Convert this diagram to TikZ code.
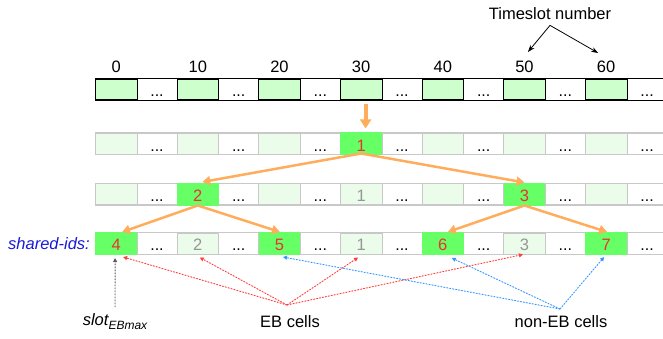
\documentclass[tikz,border=0pt]{standalone}
\usepackage{fontspec}
\setmainfont{Liberation Sans}
\usetikzlibrary{arrows.meta}
\definecolor{topgreen}{RGB}{204,255,204}
\definecolor{lightgreen}{RGB}{235,252,235}
\definecolor{hlgreen}{RGB}{102,255,102}
\definecolor{numred}{RGB}{235,50,50}
\definecolor{ghostgray}{RGB}{150,150,150}
\definecolor{graybd}{RGB}{200,200,200}
\definecolor{orangec}{RGB}{255,172,92}
\definecolor{labelblue}{RGB}{25,25,215}
\definecolor{dotred}{RGB}{255,60,60}
\definecolor{dotblue}{RGB}{50,150,255}
\definecolor{dotgray}{RGB}{90,90,90}
\begin{document}
\begin{tikzpicture}[x=1pt,y=-1pt,
  font=\fontsize{16.5}{19}\selectfont,
  rowbg/.style={minimum width=580pt, minimum height=21.5pt, inner sep=0pt, outer sep=0pt, anchor=west},
  wcell/.style={fill=white, minimum width=40pt, minimum height=21.5pt, inner sep=0pt, outer sep=0pt, text height=16pt, text depth=1.5pt, font=\fontsize{16}{16}\selectfont},
  gcell/.style={minimum width=41.67pt, minimum height=22pt, inner sep=0pt, outer sep=0pt},
  hl/.style={fill=hlgreen, text=numred, minimum width=41.67pt, minimum height=23pt, inner sep=0pt, outer sep=0pt, text height=14.5pt, text depth=0pt},
  ghost/.style={text=ghostgray, inner sep=0pt, outer sep=0pt, text height=14.5pt, text depth=0pt, minimum height=23pt},
  oarrow/.style={draw=orangec, line width=2.5pt, -{Triangle[length=8pt,width=9pt]}},
  dotarrow/.style={line width=0.9pt, dash pattern=on 1.5pt off 1.5pt, -{Triangle[length=4pt,width=4pt]}},
  rdot/.style={dotarrow, draw=dotred, fill=dotred},
  bdot/.style={dotarrow, draw=dotblue, fill=dotblue},
  kdot/.style={dotarrow, draw=dotgray, fill=dotgray},
  tsarrow/.style={draw=black, line width=0.8pt, -{Stealth[length=7pt,width=5pt]}},
  numlabel/.style={anchor=base, inner sep=0pt},
  btext/.style={anchor=base, inner sep=0pt}]
\useasboundingbox (0,0) rectangle (663,339);

% rows of cells
\foreach \r/\yc/\bc/\fc/\lw in {1/89.5/black/topgreen/1.6pt, 2/144/graybd/lightgreen/1.5pt, 3/194/graybd/lightgreen/1.5pt, 4/243.5/graybd/lightgreen/1.5pt}{
  \node[rowbg, draw=\bc, fill=\fc, line width=\lw] (row\r) at (95.3,\yc) {};
  \foreach \k in {0,...,6}{
    \node[gcell] (g\r\k) at ({116.1+81.67*\k},\yc) {};
    \node[wcell, draw=\bc, line width=1pt] (w\r\k) at ({157+81.67*\k},\yc) {...};
  }
}

% timeslot numbers
\foreach \k/\t in {0/0,1/10,2/20,3/30,4/40,5/50,6/60}{
  \node[numlabel] (l\k) at ({116.1+81.67*\k},72.7) {\t};
}
\node[anchor=base, inner sep=0pt] (tsl) at (550,20) {Timeslot number};
\draw[tsarrow] ([yshift=-5pt]tsl.south) -- ([xshift=3.5pt,yshift=9pt]l5.north);
\draw[tsarrow] ([yshift=-5pt]tsl.south) -- ([xshift=-8pt,yshift=8pt]l6.north);

% highlighted cells
\node[hl] (n1) at (g23) {1};
\node[hl] (n2) at (g31) {2};
\node[hl] (n3) at (g35) {3};
\node[hl] (n4) at (g40) {4};
\node[hl] (n5) at (g42) {5};
\node[hl] (n6) at (g44) {6};
\node[hl] (n7) at (g46) {7};
% ghost numbers
\node[ghost] (h1) at (g33) {1};
\node[ghost] (h2) at (g41) {2};
\node[ghost] (h3) at (g43) {1};
\node[ghost] (h4) at (g45) {3};

\node[anchor=base east, inner sep=0pt, text=labelblue, font=\fontsize{16.5}{19}\selectfont\itshape] (sid) at (90,249.5) {shared-ids:};

% orange tree arrows
\draw[oarrow, line width=4pt, -{Triangle[length=9pt,width=11pt]}] ([xshift=4.5pt,yshift=-4pt]g13.south) -- ([xshift=4.5pt,yshift=4pt]n1.north);
\draw[oarrow] ([yshift=2pt]n1.south) -- ([xshift=4.5pt,yshift=0.5pt]n2.north);
\draw[oarrow] ([yshift=2pt]n1.south) -- (n3.north);
\draw[oarrow] (n2.south) -- ([xshift=6pt]n4.north);
\draw[oarrow] (n2.south) -- ([xshift=0.5pt]n5.north);
\draw[oarrow] (n3.south) -- ([xshift=5pt]n6.north);
\draw[oarrow] (n3.south) -- ([xshift=1pt]n7.north);

% bottom labels
\node[btext] (slt) at (115,325) {\itshape slot\raisebox{-4pt}{\fontsize{12}{12}\selectfont EBmax}};
\node[btext] (ebt) at (290,327) {EB cells};
\node[btext] (nebt) at (561,327) {non-EB cells};
\coordinate (ebp) at (287,305);
\coordinate (nebp) at (560,309);
\coordinate (slp) at (115,307);

% dotted pointers
\draw[kdot] (slp) -- ([xshift=-1pt,yshift=-3pt]n4.south);
\draw[rdot] (ebp) -- ([xshift=7pt,yshift=-2pt]n4.south);
\draw[rdot] (ebp) -- ([xshift=2pt,yshift=-3pt]g41.south);
\draw[rdot] (ebp) -- ([xshift=-3pt,yshift=-3pt]g43.south);
\draw[rdot] (ebp) -- ([xshift=-1.5pt]g45.south);
\draw[bdot] (nebp) -- ([xshift=3.5pt,yshift=-2pt]n5.south);
\draw[bdot] (nebp) -- ([xshift=9pt,yshift=-3pt]n6.south);
\draw[bdot] (nebp) -- ([xshift=-2pt,yshift=-2pt]n7.south);
\end{tikzpicture}
\end{document}
